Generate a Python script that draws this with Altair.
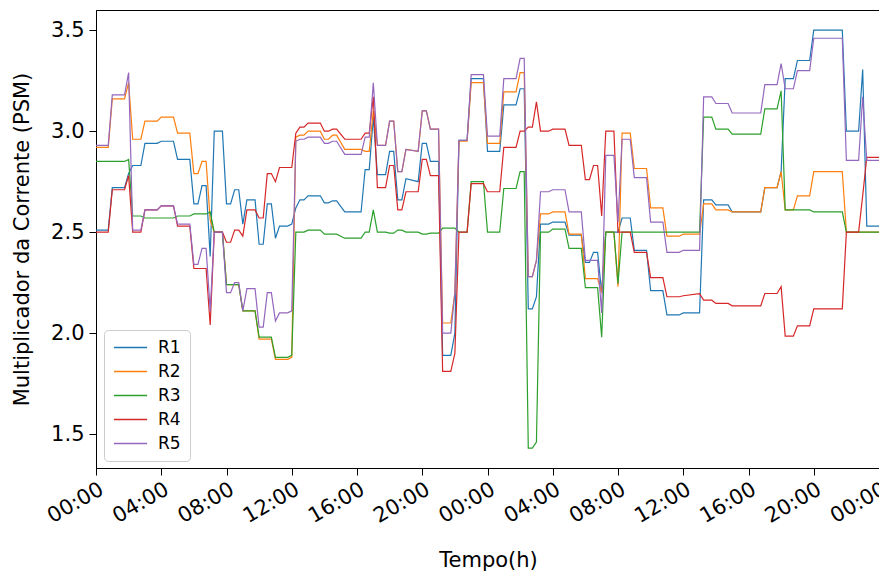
import altair as alt
import pandas as pd

# Time in hours since the first 00:00 (two days)
HOURS = [0, 0.75, 1, 1.75, 2, 2.25, 2.75, 3, 3.75, 4,
         4.75, 5, 5.75, 6, 6.25, 6.5, 6.75, 7, 7.25, 7.75,
         8, 8.25, 8.5, 8.75, 9, 9.25, 9.75, 10, 10.25, 10.5,
         10.75, 11, 11.25, 11.75, 12, 12.25, 12.5, 12.75, 13, 13.75,
         14, 14.25, 14.5, 14.75, 15.25, 16.25, 16.5, 16.75, 17, 17.25,
         17.75, 18, 18.25, 18.5, 18.75, 19, 19.75, 20, 20.25, 20.5,
         21, 21.25, 21.75, 22, 22.25, 22.75, 23, 23.75, 24, 24.75,
         25, 25.75, 26, 26.25, 26.5, 26.75, 27, 27.25, 27.75, 28,
         28.75, 29, 29.75, 30, 30.25, 30.5, 30.75, 31, 31.25, 31.75,
         32, 32.25, 32.75, 33, 33.75, 34, 34.75, 35, 35.75, 36,
         37, 37.25, 37.75, 38, 38.75, 39, 40.75, 41, 41.75, 42,
         42.25, 42.75, 43, 43.75, 44, 45.75, 46, 46.75, 47, 47.25,
         48]

R1 = [2.51, 2.51, 2.72, 2.72, 2.79, 2.83, 2.83, 2.94, 2.94, 2.95,
      2.95, 2.86, 2.86, 2.64, 2.64, 2.73, 2.73, 2.38, 3.00, 3.00,
      2.64, 2.64, 2.71, 2.71, 2.54, 2.66, 2.66, 2.44, 2.44, 2.64,
      2.64, 2.47, 2.53, 2.53, 2.54, 2.62, 2.66, 2.66, 2.68, 2.68,
      2.645, 2.645, 2.655, 2.655, 2.60, 2.60, 2.81, 2.81, 3.07, 2.785,
      2.785, 2.90, 2.90, 2.66, 2.66, 2.765, 2.75, 2.94, 2.94, 2.85,
      2.85, 1.89, 1.89, 2.00, 2.955, 2.955, 3.26, 3.26, 2.90, 2.90,
      3.13, 3.13, 3.21, 3.21, 2.12, 2.12, 2.18, 2.54, 2.54, 2.55,
      2.55, 2.485, 2.485, 2.35, 2.35, 2.40, 2.40, 2.20, 2.50, 2.50,
      2.50, 2.57, 2.57, 2.41, 2.41, 2.21, 2.21, 2.09, 2.09, 2.10,
      2.10, 2.66, 2.66, 2.635, 2.635, 2.60, 2.60, 2.72, 2.72, 2.80,
      3.26, 3.26, 3.35, 3.35, 3.50, 3.50, 3.00, 3.00, 3.305, 2.53,
      2.53]

R2 = [2.92, 2.92, 3.16, 3.16, 3.24, 2.96, 2.96, 3.05, 3.05, 3.07,
      3.07, 2.99, 2.99, 2.79, 2.79, 2.85, 2.85, 2.56, 2.50, 2.50,
      2.24, 2.24, 2.24, 2.24, 2.11, 2.11, 2.11, 1.97, 1.97, 1.97,
      1.97, 1.87, 1.87, 1.87, 1.88, 2.97, 2.98, 2.98, 3.00, 3.00,
      2.96, 2.96, 2.98, 2.98, 2.91, 2.91, 2.90, 2.90, 3.10, 2.93,
      2.93, 3.05, 3.05, 2.80, 2.80, 2.91, 2.90, 3.10, 3.10, 3.01,
      3.01, 2.05, 2.05, 2.20, 2.95, 2.95, 3.24, 3.24, 2.94, 2.94,
      3.195, 3.195, 3.29, 3.29, 2.28, 2.28, 2.36, 2.59, 2.59, 2.60,
      2.60, 2.49, 2.49, 2.27, 2.27, 2.27, 2.27, 2.20, 2.50, 2.50,
      2.23, 2.99, 2.99, 2.815, 2.815, 2.62, 2.62, 2.48, 2.48, 2.49,
      2.49, 2.64, 2.64, 2.61, 2.61, 2.60, 2.60, 2.72, 2.72, 2.80,
      2.61, 2.61, 2.68, 2.68, 2.80, 2.80, 2.50, 2.50, 2.50, 2.50,
      2.50]

R3 = [2.85, 2.85, 2.85, 2.85, 2.86, 2.58, 2.58, 2.57, 2.57, 2.57,
      2.57, 2.58, 2.58, 2.59, 2.59, 2.59, 2.59, 2.60, 2.50, 2.50,
      2.24, 2.24, 2.24, 2.24, 2.11, 2.11, 2.11, 1.98, 1.98, 1.98,
      1.98, 1.88, 1.88, 1.88, 1.89, 2.50, 2.50, 2.50, 2.51, 2.51,
      2.49, 2.49, 2.49, 2.49, 2.47, 2.47, 2.50, 2.50, 2.61, 2.50,
      2.50, 2.495, 2.495, 2.51, 2.51, 2.50, 2.50, 2.49, 2.49, 2.495,
      2.495, 2.52, 2.52, 2.52, 2.50, 2.50, 2.75, 2.75, 2.50, 2.50,
      2.716, 2.716, 2.80, 2.80, 1.43, 1.43, 1.46, 2.50, 2.50, 2.515,
      2.515, 2.42, 2.42, 2.225, 2.225, 2.225, 2.225, 1.98, 2.50, 2.50,
      2.245, 2.50, 2.50, 2.50, 2.50, 2.50, 2.50, 2.50, 2.50, 2.50,
      2.50, 3.07, 3.07, 3.01, 3.01, 2.985, 2.985, 3.11, 3.11, 3.20,
      2.61, 2.61, 2.61, 2.61, 2.60, 2.60, 2.50, 2.50, 2.50, 2.50,
      2.50]

R4 = [2.50, 2.50, 2.71, 2.71, 2.78, 2.50, 2.50, 2.61, 2.61, 2.63,
      2.63, 2.53, 2.53, 2.32, 2.32, 2.32, 2.32, 2.04, 2.50, 2.50,
      2.45, 2.45, 2.51, 2.51, 2.48, 2.61, 2.61, 2.57, 2.57, 2.79,
      2.79, 2.75, 2.82, 2.82, 2.82, 2.99, 3.02, 3.02, 3.04, 3.04,
      3.00, 3.00, 3.01, 3.01, 2.96, 2.96, 2.99, 2.99, 3.17, 2.72,
      2.72, 2.83, 2.83, 2.61, 2.61, 2.70, 2.70, 2.86, 2.86, 2.78,
      2.78, 1.81, 1.81, 1.90, 2.50, 2.50, 2.74, 2.74, 2.70, 2.70,
      2.92, 2.92, 3.00, 3.00, 3.02, 3.02, 3.145, 3.00, 3.00, 3.01,
      3.01, 2.93, 2.93, 2.76, 2.76, 2.83, 2.83, 2.58, 3.00, 3.00,
      2.50, 2.50, 2.50, 2.40, 2.40, 2.275, 2.275, 2.18, 2.18, 2.185,
      2.195, 2.163, 2.163, 2.147, 2.147, 2.135, 2.135, 2.196, 2.196, 2.23,
      1.985, 1.985, 2.036, 2.036, 2.12, 2.12, 2.50, 2.50, 2.68, 2.87,
      2.87]

R5 = [2.93, 2.93, 3.18, 3.18, 3.29, 2.51, 2.51, 2.61, 2.61, 2.63,
      2.63, 2.54, 2.54, 2.34, 2.34, 2.42, 2.42, 2.11, 2.50, 2.50,
      2.20, 2.20, 2.25, 2.25, 2.11, 2.22, 2.22, 2.03, 2.03, 2.20,
      2.20, 2.06, 2.10, 2.10, 2.11, 2.95, 2.96, 2.96, 2.97, 2.97,
      2.94, 2.94, 2.95, 2.95, 2.885, 2.885, 2.97, 2.97, 3.24, 2.93,
      2.93, 3.05, 3.05, 2.80, 2.80, 2.91, 2.90, 3.10, 3.10, 3.01,
      3.01, 2.00, 2.00, 2.20, 2.955, 2.955, 3.28, 3.28, 2.975, 2.975,
      3.26, 3.26, 3.36, 3.36, 2.28, 2.28, 2.36, 2.70, 2.70, 2.71,
      2.71, 2.60, 2.60, 2.36, 2.36, 2.36, 2.36, 2.10, 2.88, 2.88,
      2.55, 2.96, 2.96, 2.77, 2.77, 2.55, 2.55, 2.40, 2.40, 2.41,
      2.41, 3.17, 3.17, 3.137, 3.137, 3.09, 3.09, 3.23, 3.23, 3.335,
      3.21, 3.21, 3.30, 3.30, 3.46, 3.46, 2.855, 2.855, 3.17, 2.855,
      2.855]

SERIES_NAMES = ["R1", "R2", "R3", "R4", "R5"]
SERIES_VALUES = [R1, R2, R3, R4, R5]
COLORS = ["#1f77b4", "#ff7f0e", "#2ca02c", "#d62728", "#9467bd"]
X_TICKS = list(range(0, 49, 4))
Y_TICKS = [1.5, 2.0, 2.5, 3.0, 3.5]

rows = []
for name, vals in zip(SERIES_NAMES, SERIES_VALUES):
    assert len(vals) == len(HOURS), (name, len(vals), len(HOURS))
    for h, v in zip(HOURS, vals):
        rows.append({"hora": h, "psm": v, "serie": name})
df = pd.DataFrame(rows)

FONT = "DejaVu Sans"

chart = alt.Chart(df).mark_line(strokeWidth=1.2).encode(
    x=alt.X(
        "hora:Q",
        scale=alt.Scale(domain=[0, 48], nice=False, zero=False),
        axis=alt.Axis(
            values=X_TICKS,
            labelExpr="(datum.value % 24 < 10 ? '0' : '') + (datum.value % 24) + ':00'",
            title="Tempo(h)",
            labelAngle=330,
            labelAlign="right",
            labelBaseline="top",
            labelPadding=3,
            titleX=392,
            titleY=98,
            titleAlign="center",
            titleBaseline="alphabetic",
        ),
    ),
    y=alt.Y(
        "psm:Q",
        scale=alt.Scale(domain=[1.332, 3.6], nice=False, zero=False),
        axis=alt.Axis(
            values=Y_TICKS,
            format=".1f",
            title="Multiplicador da Corrente (PSM)",
            labelPadding=5,
            titleAngle=270,
            titleX=-74,
            titleY=229,
            titleAlign="center",
            titleBaseline="middle",
        ),
    ),
    color=alt.Color(
        "serie:N",
        scale=alt.Scale(domain=SERIES_NAMES, range=COLORS),
        legend=alt.Legend(
            title=None,
            orient="none",
            legendX=8,
            legendY=320,
            symbolType="stroke",
            symbolSize=1100,
            symbolStrokeWidth=1.5,
            labelFontSize=17,
            labelFont=FONT,
            labelColor="black",
            labelOffset=10,
            clipHeight=17,
            rowPadding=6,
            padding=9,
            fillColor="white",
            strokeColor="#cccccc",
            cornerRadius=4,
        ),
    ),
).properties(
    width=783,
    height=458,
    autosize=alt.AutoSizeParams(type="none"),
    padding={"left": 96, "top": 10, "right": 0, "bottom": 106},
).configure_view(
    stroke="black", strokeWidth=1
).configure_axis(
    grid=False,
    labelFont=FONT,
    titleFont=FONT,
    labelFontSize=21,
    titleFontSize=21,
    titleFontWeight="normal",
    labelColor="black",
    titleColor="black",
    domainColor="black",
    tickColor="black",
    tickSize=7,
    domainWidth=1,
    tickWidth=1,
)

chart.save("out.html", embed_options={"renderer": "svg", "actions": False})
